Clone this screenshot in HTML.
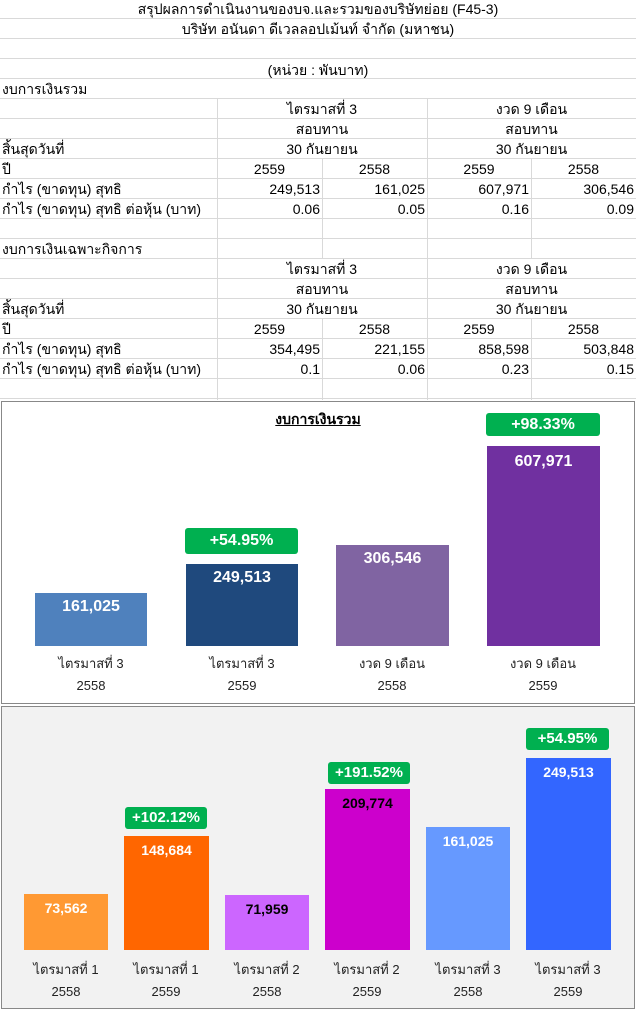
<!DOCTYPE html>
<html><head><meta charset="utf-8"><style>
*{margin:0;padding:0;box-sizing:border-box}
body{width:636px;height:1010px;background:#fff;position:relative;overflow:hidden;font-family:"Liberation Sans","Noto Sans CJK SC","WenQuanYi Zen Hei",sans-serif;font-size:14px;color:#000}
.a{position:absolute}
.h{position:absolute;left:0;width:636px;height:1px;background:#d9d9d9}
.v{position:absolute;width:1px;background:#d9d9d9}
.t{position:absolute;height:20px;line-height:20px;white-space:nowrap}
.c{text-align:center}.r{text-align:right}
.bar{position:absolute}
.val{position:absolute;left:0;right:0;text-align:center;font-weight:bold;color:#fff}
.badge{position:absolute;background:#00b050;color:#fff;font-weight:bold;text-align:center;border-radius:3px}
.lbl{position:absolute;text-align:center;font-size:13px;color:#222;line-height:22px}
</style></head><body>
<div class="h" style="top:18px"></div><div class="h" style="top:38px"></div><div class="h" style="top:58px"></div><div class="h" style="top:78px"></div><div class="h" style="top:98px"></div><div class="h" style="top:118px"></div><div class="h" style="top:138px"></div><div class="h" style="top:158px"></div><div class="h" style="top:178px"></div><div class="h" style="top:198px"></div><div class="h" style="top:218px"></div><div class="h" style="top:238px"></div><div class="h" style="top:258px"></div><div class="h" style="top:278px"></div><div class="h" style="top:298px"></div><div class="h" style="top:318px"></div><div class="h" style="top:338px"></div><div class="h" style="top:358px"></div><div class="h" style="top:378px"></div><div class="h" style="top:398px"></div>
<div class="v" style="left:217px;top:98px;height:302px"></div><div class="v" style="left:427px;top:98px;height:302px"></div>
<div class="v" style="left:322px;top:158px;height:100px"></div><div class="v" style="left:531px;top:158px;height:100px"></div>
<div class="v" style="left:322px;top:318px;height:82px"></div><div class="v" style="left:531px;top:318px;height:82px"></div>
<div class="t c" style="top:-1px;left:0;width:636px">สรุปผลการดำเนินงานของบจ.และรวมของบริษัทย่อย (F45-3)</div>
<div class="t c" style="top:19px;left:0;width:636px">บริษัท อนันดา ดีเวลลอปเม้นท์ จำกัด (มหาชน)</div>
<div class="t c" style="top:60px;left:0;width:636px">(หน่วย : พันบาท)</div>
<div class="t" style="top:79px;left:2px">งบการเงินรวม</div>
<div class="t c" style="top:99px;left:217px;width:210px">ไตรมาสที่ 3</div><div class="t c" style="top:99px;left:427px;width:209px">งวด 9 เดือน</div>
<div class="t c" style="top:119px;left:217px;width:210px">สอบทาน</div><div class="t c" style="top:119px;left:427px;width:209px">สอบทาน</div>
<div class="t" style="top:139px;left:2px">สิ้นสุดวันที่</div>
<div class="t c" style="top:139px;left:217px;width:210px">30 กันยายน</div><div class="t c" style="top:139px;left:427px;width:209px">30 กันยายน</div>
<div class="t" style="top:159px;left:2px">ปี</div>
<div class="t c" style="top:159px;left:217px;width:105px">2559</div><div class="t c" style="top:159px;left:322px;width:105px">2558</div><div class="t c" style="top:159px;left:427px;width:104px">2559</div><div class="t c" style="top:159px;left:531px;width:105px">2558</div>
<div class="t" style="top:179px;left:2px">กำไร (ขาดทุน) สุทธิ</div>
<div class="t r" style="top:179px;left:217px;width:103px">249,513</div><div class="t r" style="top:179px;left:322px;width:103px">161,025</div><div class="t r" style="top:179px;left:427px;width:102px">607,971</div><div class="t r" style="top:179px;left:531px;width:103px">306,546</div>
<div class="t" style="top:199px;left:2px">กำไร (ขาดทุน) สุทธิ ต่อหุ้น (บาท)</div>
<div class="t r" style="top:199px;left:217px;width:103px">0.06</div><div class="t r" style="top:199px;left:322px;width:103px">0.05</div><div class="t r" style="top:199px;left:427px;width:102px">0.16</div><div class="t r" style="top:199px;left:531px;width:103px">0.09</div>
<div class="t" style="top:239px;left:2px">งบการเงินเฉพาะกิจการ</div>
<div class="t c" style="top:259px;left:217px;width:210px">ไตรมาสที่ 3</div><div class="t c" style="top:259px;left:427px;width:209px">งวด 9 เดือน</div>
<div class="t c" style="top:279px;left:217px;width:210px">สอบทาน</div><div class="t c" style="top:279px;left:427px;width:209px">สอบทาน</div>
<div class="t" style="top:299px;left:2px">สิ้นสุดวันที่</div>
<div class="t c" style="top:299px;left:217px;width:210px">30 กันยายน</div><div class="t c" style="top:299px;left:427px;width:209px">30 กันยายน</div>
<div class="t" style="top:319px;left:2px">ปี</div>
<div class="t c" style="top:319px;left:217px;width:105px">2559</div><div class="t c" style="top:319px;left:322px;width:105px">2558</div><div class="t c" style="top:319px;left:427px;width:104px">2559</div><div class="t c" style="top:319px;left:531px;width:105px">2558</div>
<div class="t" style="top:339px;left:2px">กำไร (ขาดทุน) สุทธิ</div>
<div class="t r" style="top:339px;left:217px;width:103px">354,495</div><div class="t r" style="top:339px;left:322px;width:103px">221,155</div><div class="t r" style="top:339px;left:427px;width:102px">858,598</div><div class="t r" style="top:339px;left:531px;width:103px">503,848</div>
<div class="t" style="top:359px;left:2px">กำไร (ขาดทุน) สุทธิ ต่อหุ้น (บาท)</div>
<div class="t r" style="top:359px;left:217px;width:103px">0.1</div><div class="t r" style="top:359px;left:322px;width:103px">0.06</div><div class="t r" style="top:359px;left:427px;width:102px">0.23</div><div class="t r" style="top:359px;left:531px;width:103px">0.15</div>

<div class="a" style="left:1px;top:401px;width:634px;height:303px;background:#fff;border:1px solid #888"></div>
<div class="a" style="left:250px;top:409px;width:136px;text-align:center;font-weight:bold;font-size:14px;text-decoration:underline">งบการเงินรวม</div>
<div class="bar" style="left:35px;top:593px;width:112px;height:53px;background:#4f81bd"><div class="val" style="top:5px;font-size:16px">161,025</div></div>
<div class="bar" style="left:186px;top:564px;width:112px;height:82px;background:#1f497d"><div class="val" style="top:5px;font-size:16px">249,513</div></div>
<div class="bar" style="left:336px;top:545px;width:113px;height:101px;background:#8064a2"><div class="val" style="top:5px;font-size:16px">306,546</div></div>
<div class="bar" style="left:487px;top:446px;width:113px;height:200px;background:#7030a0"><div class="val" style="top:7px;font-size:16px">607,971</div></div>
<div class="badge" style="left:185px;top:528px;width:113px;height:26px;line-height:26px;font-size:16px">+54.95%</div>
<div class="badge" style="left:486px;top:413px;width:114px;height:23px;line-height:23px;font-size:16px">+98.33%</div>
<div class="lbl" style="left:41px;top:653px;width:100px">ไตรมาสที่ 3<br>2558</div>
<div class="lbl" style="left:192px;top:653px;width:100px">ไตรมาสที่ 3<br>2559</div>
<div class="lbl" style="left:342px;top:653px;width:100px">งวด 9 เดือน<br>2558</div>
<div class="lbl" style="left:493px;top:653px;width:100px">งวด 9 เดือน<br>2559</div>

<div class="a" style="left:1px;top:706px;width:634px;height:303px;background:#f2f2f2;border:1px solid #888"></div>
<div class="bar" style="left:24px;top:894px;width:84px;height:56px;background:#ff9933"><div class="val" style="top:6px;font-size:14px">73,562</div></div>
<div class="bar" style="left:124px;top:836px;width:85px;height:114px;background:#ff6600"><div class="val" style="top:6px;font-size:14px">148,684</div></div>
<div class="bar" style="left:225px;top:895px;width:84px;height:55px;background:#cc66ff"><div class="val" style="top:6px;font-size:14px;color:#000">71,959</div></div>
<div class="bar" style="left:325px;top:789px;width:85px;height:161px;background:#cc00cc"><div class="val" style="top:6px;font-size:14px;color:#000">209,774</div></div>
<div class="bar" style="left:426px;top:827px;width:84px;height:123px;background:#6699ff"><div class="val" style="top:6px;font-size:14px">161,025</div></div>
<div class="bar" style="left:526px;top:758px;width:85px;height:192px;background:#3366ff"><div class="val" style="top:6px;font-size:14px">249,513</div></div>
<div class="badge" style="left:125px;top:807px;width:82px;height:22px;line-height:22px;font-size:15px">+102.12%</div>
<div class="badge" style="left:328px;top:762px;width:82px;height:22px;line-height:22px;font-size:15px">+191.52%</div>
<div class="badge" style="left:526px;top:728px;width:83px;height:22px;line-height:22px;font-size:15px">+54.95%</div>
<div class="lbl" style="left:16px;top:959px;width:100px">ไตรมาสที่ 1<br>2558</div>
<div class="lbl" style="left:116px;top:959px;width:100px">ไตรมาสที่ 1<br>2559</div>
<div class="lbl" style="left:217px;top:959px;width:100px">ไตรมาสที่ 2<br>2558</div>
<div class="lbl" style="left:317px;top:959px;width:100px">ไตรมาสที่ 2<br>2559</div>
<div class="lbl" style="left:418px;top:959px;width:100px">ไตรมาสที่ 3<br>2558</div>
<div class="lbl" style="left:518px;top:959px;width:100px">ไตรมาสที่ 3<br>2559</div>
</body></html>
